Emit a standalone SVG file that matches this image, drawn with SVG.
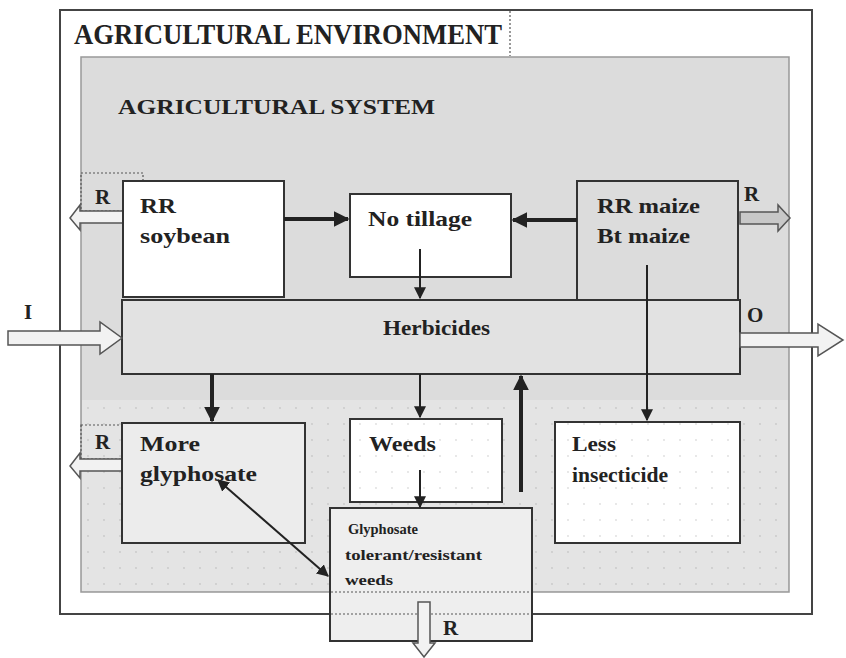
<svg xmlns="http://www.w3.org/2000/svg" width="846" height="658" viewBox="0 0 846 658">
<style>
.t{font-family:"Liberation Serif","Times New Roman",serif;font-weight:bold;fill:#222}
.n{font-size:21px}
.s{font-size:15px}
.box{stroke:#333;stroke-width:2}
.thin{stroke:#222;stroke-width:2;fill:none}
.thick{stroke:#222;stroke-width:4;fill:none}
.dot{stroke:#555;stroke-width:1.2;stroke-dasharray:2 2;fill:none}
.hollow{fill:#f2f2f2;stroke:#555;stroke-width:1.5}
</style>
<defs>
<pattern id="dots" width="16" height="16" patternUnits="userSpaceOnUse">
<rect width="16" height="16" fill="#e4e4e4"/>
<circle cx="8" cy="8" r="0.9" fill="#c8c8c8"/>
</pattern>
<pattern id="wdots" width="16" height="16" patternUnits="userSpaceOnUse">
<rect width="16" height="16" fill="#ffffff"/>
<circle cx="8" cy="8" r="0.9" fill="#dddddd"/>
</pattern>
<marker id="ah" viewBox="0 0 10 10" refX="9" refY="5" markerWidth="4" markerHeight="4" orient="auto-start-reverse">
<path d="M0,0 L10,5 L0,10 z" fill="#222"/>
</marker>
<marker id="ah2" viewBox="0 0 10 10" refX="9" refY="5" markerWidth="6" markerHeight="6" orient="auto-start-reverse">
<path d="M0,0 L10,5 L0,10 z" fill="#222"/>
</marker>
</defs>
<rect width="846" height="658" fill="#fff"/>
<g id="environment">
<rect x="60" y="10" width="752" height="604" fill="#fff" stroke="#444" stroke-width="2"/>
<line x1="510" y1="11" x2="510" y2="56" class="dot"/>
<text x="74" y="44" class="t" style="font-size:29px" textLength="428" lengthAdjust="spacingAndGlyphs">AGRICULTURAL ENVIRONMENT</text>
</g>
<g id="system">
<rect x="81" y="57" width="708" height="535" fill="#dcdcdc" stroke="#999" stroke-width="1.5"/>
<rect x="82" y="400" width="706" height="191" fill="url(#dots)"/>
<text x="118" y="114" class="t" style="font-size:22px" textLength="317" lengthAdjust="spacingAndGlyphs">AGRICULTURAL SYSTEM</text>
</g>
<g id="rr-soybean">
<rect x="81" y="173" width="62" height="38" fill="#fff" class="dot"/>
<text x="95" y="204" class="t n">R</text>
<path d="M123,211 L80,211 L80,205 L70,218 L80,230 L80,223 L123,223 z" class="hollow"/>
<rect x="123" y="181" width="161" height="116" fill="#fff" class="box"/>
<text x="140" y="213" class="t n" textLength="36" lengthAdjust="spacingAndGlyphs">RR</text>
<text x="140" y="243" class="t n" textLength="90" lengthAdjust="spacingAndGlyphs">soybean</text>
</g>
<g id="no-tillage">
<rect x="350" y="194" width="161" height="83" fill="#fff" class="box"/>
<text x="368" y="226" class="t n" textLength="104" lengthAdjust="spacingAndGlyphs">No tillage</text>
</g>
<g id="rr-maize">
<rect x="577" y="181" width="161" height="119" fill="#dcdcdc" class="box"/>
<path d="M577,300 L577,327 L740,327 L740,300" class="dot"/>
<text x="597" y="213" class="t n" textLength="103" lengthAdjust="spacingAndGlyphs">RR maize</text>
<text x="597" y="243" class="t n" textLength="93" lengthAdjust="spacingAndGlyphs">Bt maize</text>
<text x="744" y="201" class="t n">R</text>
<path d="M740,212 L778,212 L778,205 L790,218 L778,231 L778,224 L740,224 z" fill="#c8c8c8" stroke="#555" stroke-width="1.5"/>
</g>
<g id="herbicides">
<rect x="122" y="300" width="618" height="74" fill="#e2e2e2" class="box"/>
<text x="383" y="335" class="t n" textLength="107" lengthAdjust="spacingAndGlyphs">Herbicides</text>
<text x="24" y="319" class="t n">I</text>
<path d="M8,331 L100,331 L100,322 L122,338 L100,354 L100,345 L8,345 z" class="hollow"/>
<text x="747" y="322" class="t n">O</text>
<path d="M740,333 L818,333 L818,324 L843,340 L818,356 L818,347 L740,347 z" class="hollow"/>
</g>
<g id="more-glyphosate">
<rect x="81" y="425" width="41" height="34" fill="#fff" class="dot"/>
<text x="95" y="449" class="t n">R</text>
<path d="M122,459 L80,459 L80,453 L70,466 L80,478 L80,471 L122,471 z" class="hollow"/>
<rect x="122" y="423" width="183" height="120" fill="#ececec" class="box"/>
<text x="140" y="451" class="t n" textLength="60" lengthAdjust="spacingAndGlyphs">More</text>
<text x="140" y="481" class="t n" textLength="117" lengthAdjust="spacingAndGlyphs">glyphosate</text>
</g>
<g id="weeds">
<rect x="350" y="419" width="152" height="83" fill="url(#wdots)" class="box"/>
<text x="369" y="451" class="t n" textLength="67" lengthAdjust="spacingAndGlyphs">Weeds</text>
</g>
<g id="less-insecticide">
<rect x="555" y="422" width="185" height="121" fill="url(#wdots)" class="box"/>
<text x="572" y="451" class="t n" textLength="44" lengthAdjust="spacingAndGlyphs">Less</text>
<text x="572" y="482" class="t n" textLength="96" lengthAdjust="spacingAndGlyphs">insecticide</text>
</g>
<g id="glyphosate-tolerant">
<rect x="330" y="508" width="202" height="133" fill="#eeeeee" class="box"/>
<line x1="331" y1="592" x2="531" y2="592" class="dot"/>
<line x1="331" y1="614" x2="531" y2="614" class="dot"/>
<text x="348" y="534" class="t s" textLength="70" lengthAdjust="spacingAndGlyphs">Glyphosate</text>
<text x="345" y="560" class="t s" textLength="137" lengthAdjust="spacingAndGlyphs">tolerant/resistant</text>
<text x="345" y="585" class="t s" textLength="48" lengthAdjust="spacingAndGlyphs">weeds</text>
<text x="443" y="635" class="t n">R</text>
<path d="M418,602 L430,602 L430,643 L435,643 L424,657 L413,643 L418,643 z" class="hollow"/>
</g>
<g id="connectors">
<line x1="284" y1="219" x2="348" y2="219" class="thick" marker-end="url(#ah)"/>
<line x1="577" y1="220" x2="513" y2="220" class="thick" marker-end="url(#ah)"/>
<line x1="420" y1="249" x2="420" y2="298" class="thin" marker-end="url(#ah2)"/>
<line x1="647" y1="265" x2="647" y2="420" class="thin" marker-end="url(#ah2)"/>
<line x1="212" y1="374" x2="212" y2="421" class="thick" marker-end="url(#ah)"/>
<line x1="420" y1="374" x2="420" y2="417" class="thin" marker-end="url(#ah2)"/>
<line x1="420" y1="470" x2="420" y2="507" class="thin" marker-end="url(#ah2)"/>
<line x1="521" y1="492" x2="521" y2="376" class="thick" marker-end="url(#ah)"/>
<line x1="218" y1="480" x2="328" y2="576" class="thin" marker-start="url(#ah2)" marker-end="url(#ah2)"/>
</g>
</svg>
